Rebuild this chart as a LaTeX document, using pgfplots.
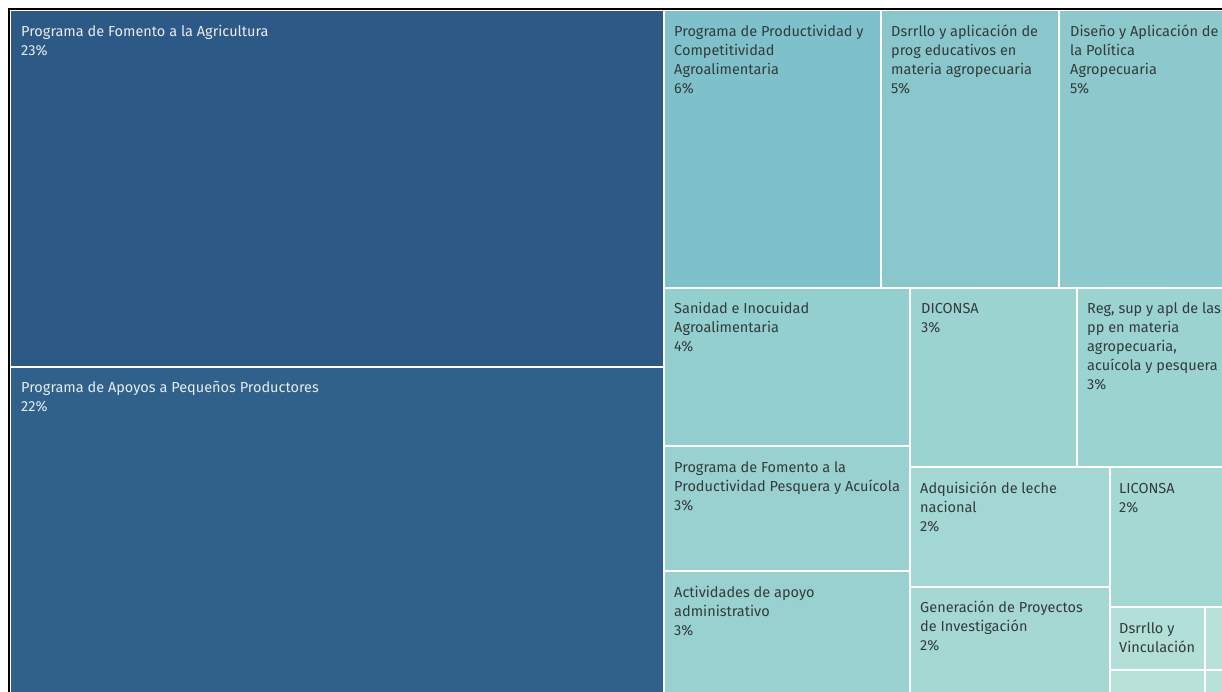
\documentclass[border=0pt]{standalone}
\usepackage{pgfplots}
\pgfplotsset{compat=1.18}
\usepackage{fontspec}
\setmainfont{Fira Sans}

% treemap colours
\definecolor{cA}{HTML}{2D5986}
\definecolor{cB}{HTML}{2F618A}
\definecolor{cC}{HTML}{7FC1CA}
\definecolor{cD}{HTML}{89C7CD}
\definecolor{cE}{HTML}{8CC8CC}
\definecolor{cF}{HTML}{93CFCE}
\definecolor{cG}{HTML}{9BD3D1}
\definecolor{cH}{HTML}{99D1D0}
\definecolor{cI}{HTML}{A3D7D3}
\definecolor{cJ}{HTML}{A6D8D3}
\definecolor{cK}{HTML}{B2DFD7}
\definecolor{cL}{HTML}{B7E1D9}
\definecolor{txtdark}{HTML}{333B3C}
\definecolor{txtlight}{HTML}{E6ECF2}

% one cell: x1, y1, x2, y2, colour
\newcommand{\cell}[5]{%
  \addplot[fill=#5, draw=white, line width=2bp] coordinates {(#1,#2) (#3,#2) (#3,#4) (#1,#4) (#1,#2)};}

\begin{document}
\begin{tikzpicture}[
    lab/.style={anchor=base west, align=left, inner sep=0pt,
                font=\fontsize{14.5bp}{19bp}\selectfont, text=txtdark},
]
\begin{axis}[
    width=1222bp, height=692bp,
    scale only axis,
    xmin=0, xmax=1222, ymin=0, ymax=692,
    y dir=reverse,
    hide axis,
]
\cell{10}{10}{664}{367}{cA}
\cell{10}{367}{664}{700}{cB}
\cell{664}{10}{881}{288}{cC}
\cell{881}{10}{1059}{288}{cD}
\cell{1059}{10}{1230}{288}{cE}
\cell{664}{288}{910}{446}{cF}
\cell{664}{446}{910}{571}{cH}
\cell{664}{571}{910}{700}{cH}
\cell{910}{288}{1077}{467}{cG}
\cell{1077}{288}{1230}{467}{cG}
\cell{910}{467}{1110}{587}{cI}
\cell{910}{587}{1110}{700}{cJ}
\cell{1110}{467}{1230}{607}{cJ}
\cell{1110}{607}{1205}{670}{cK}
\cell{1205}{607}{1230}{670}{cL}
\cell{1110}{670}{1205}{700}{cL}
\cell{1205}{670}{1230}{700}{cL}

\draw[black, line width=2.5bp] (axis cs:9,700) |- (axis cs:1230,9);

% labels: anchored at the baseline of their last line
\node[lab, text=txtlight] at (axis cs:21,56) {Programa de Fomento a la Agricultura\\23\%};
\node[lab, text=txtlight] at (axis cs:21,411) {Programa de Apoyos a Pequeños Productores\\22\%};
\node[lab] at (axis cs:674,94) {Programa de Productividad y\\Competitividad\\Agroalimentaria\\6\%};
\node[lab] at (axis cs:891,94) {Dsrrllo y aplicación de\\prog educativos en\\materia agropecuaria\\5\%};
\node[lab] at (axis cs:1070,94) {Diseño y Aplicación de\\la Política\\Agropecuaria\\5\%};
\node[lab] at (axis cs:674,351) {Sanidad e Inocuidad\\Agroalimentaria\\4\%};
\node[lab] at (axis cs:921,332) {DICONSA\\3\%};
\node[lab] at (axis cs:1087,389) {Reg, sup y apl de las\\pp en materia\\agropecuaria,\\acuícola y pesquera\\3\%};
\node[lab] at (axis cs:674,510) {Programa de Fomento a la\\Productividad Pesquera y Acuícola\\3\%};
\node[lab] at (axis cs:674,635) {Actividades de apoyo\\administrativo\\3\%};
\node[lab] at (axis cs:920,531) {Adquisición de leche\\nacional\\2\%};
\node[lab] at (axis cs:1119,512) {LICONSA\\2\%};
\node[lab] at (axis cs:920,650) {Generación de Proyectos\\de Investigación\\2\%};
\node[lab] at (axis cs:1119,652) {Dsrrllo y\\Vinculación};
\end{axis}
\pgfresetboundingbox
\useasboundingbox (current axis.south west) rectangle (current axis.north east);
\end{tikzpicture}
\end{document}
